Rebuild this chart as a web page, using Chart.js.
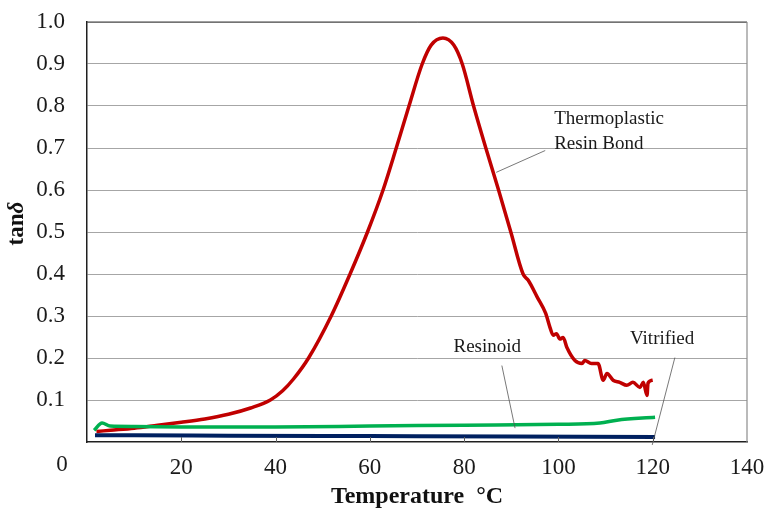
<!DOCTYPE html>
<html lang="en">
<head>
<meta charset="UTF-8">
<script src="https://cdn.jsdelivr.net/npm/chart.js"></script>
<style>
  html, body { margin: 0; padding: 0; background: #ffffff; overflow: hidden; }
</style>
</head>
<body>
<canvas id="grafico" width="766" height="511"></canvas>
<script>
    // temperatura (°C) e tan delta de cada ligante
    var tempTermo = [2, 5, 10, 15, 20, 25, 30, 34.7, 38.9, 41.5, 43.8, 47, 51.8, 55.8, 59.5, 62.8, 65.6, 68.3, 71.1, 73, 75.5, 77.8, 79.6, 82, 84.6, 87.3, 89.9, 92.5, 93.6, 95.5, 97.3, 98.2, 98.9, 99.6, 100.3, 101, 101.8, 103.5, 105, 105.6, 107, 108.4, 109.5, 110.3, 111.6, 113, 114.5, 115.8, 117.3, 118, 118.8, 119, 120];
    var tanTermo = [0.025, 0.028, 0.033, 0.04, 0.047, 0.055, 0.066, 0.081, 0.1, 0.122, 0.15, 0.2, 0.3, 0.4, 0.5, 0.6, 0.7, 0.8, 0.9, 0.945, 0.962, 0.945, 0.9, 0.8, 0.7, 0.6, 0.5, 0.4, 0.385, 0.345, 0.306, 0.273, 0.254, 0.258, 0.245, 0.249, 0.225, 0.194, 0.187, 0.194, 0.187, 0.187, 0.147, 0.163, 0.147, 0.142, 0.135, 0.142, 0.13, 0.142, 0.111, 0.14, 0.147];

    var tempResinoide = [1.5, 3.2, 4.9, 10, 20, 40, 60, 80, 100, 108.8, 112.4, 120.5];
    var tanResinoide = [0.028, 0.045, 0.038, 0.037, 0.036, 0.036, 0.038, 0.04, 0.042, 0.045, 0.052, 0.059];

    var tempVitrificado = [1.7, 10, 30, 60, 90, 120.5];
    var tanVitrificado = [0.016, 0.016, 0.015, 0.014, 0.013, 0.012];

    var ticksX = [0, 20, 40, 60, 80, 100, 120, 140];
    var ticksY = [0.1, 0.2, 0.3, 0.4, 0.5, 0.6, 0.7, 0.8, 0.9, 1.0];

    function pares(xs, ys) {
        return xs.map((x, i) => ({ x: x, y: ys[i] }));
    }

    const serif = 'Liberation Serif, Times New Roman, serif';

    // textos e linhas de chamada, em coordenadas dos dados
    var rotulos = [
        { texto: ['Thermoplastic', 'Resin Bond'], x: 99.1, y: 0.77, alinha: 'left', linha: [[97.2, 0.694], [86.8, 0.642]] },
        { texto: ['Resinoid'], x: 84.9, y: 0.225, alinha: 'center', linha: [[88.0, 0.182], [90.8, 0.033]] },
        { texto: ['Vitrified'], x: 122, y: 0.246, alinha: 'center', linha: [[124.7, 0.201], [119.9, -0.007]] }
    ];

    // tira a folga que o Chart.js reserva para os rótulos das pontas
    function semFolga(s) {
        s.paddingTop = 0;
        s.paddingBottom = 0;
        s.paddingLeft = 0;
        s.paddingRight = 0;
    }

    const extras = {
        id: 'extras',
        afterDraw(chart) {
            const c = chart.ctx;
            const xs = chart.scales.x;
            const ys = chart.scales.y;
            const a = chart.chartArea;
            c.save();

            // bordas de cima e da direita
            c.strokeStyle = '#404040';
            c.lineWidth = 1.2;
            c.beginPath();
            c.moveTo(a.left, a.top);
            c.lineTo(a.right, a.top);
            c.stroke();
            c.strokeStyle = '#8c8c8c';
            c.beginPath();
            c.moveTo(a.right, a.top);
            c.lineTo(a.right, a.bottom);
            c.stroke();

            // marcas para dentro no eixo x
            c.strokeStyle = '#606060';
            c.lineWidth = 1;
            ticksX.forEach(t => {
                if (t === 0 || t === 140) return;
                const px = Math.round(xs.getPixelForValue(t)) + 0.5;
                c.beginPath();
                c.moveTo(px, a.bottom);
                c.lineTo(px, a.bottom - 5);
                c.stroke();
            });

            // rótulo "0" deslocado para a esquerda
            c.fillStyle = '#1a1a1a';
            c.font = '23px ' + serif;
            c.textAlign = 'center';
            c.textBaseline = 'middle';
            c.fillText('0', xs.getPixelForValue(0) - 25, a.bottom + 23);

            // titulo do eixo y: tan (negrito) + delta (negrito italico)
            c.save();
            c.translate(17, ys.getPixelForValue(0.52));
            c.rotate(-Math.PI / 2);
            c.fillStyle = '#111111';
            c.textAlign = 'left';
            c.font = 'bold 23px ' + serif;
            const w1 = c.measureText('tan').width;
            c.font = 'bold italic 23px ' + serif;
            const w2 = c.measureText('δ').width;
            const x0 = -(w1 + w2) / 2;
            c.font = 'bold 23px ' + serif;
            c.fillText('tan', x0, 0);
            c.font = 'bold italic 23px ' + serif;
            c.fillText('δ', x0 + w1, 0);
            c.restore();

            // anotações
            c.font = '19px ' + serif;
            rotulos.forEach(r => {
                c.textAlign = r.alinha;
                r.texto.forEach((t, i) => {
                    c.fillText(t, xs.getPixelForValue(r.x), ys.getPixelForValue(r.y) + i * 25);
                });
                c.strokeStyle = '#555555';
                c.lineWidth = 0.8;
                c.beginPath();
                c.moveTo(xs.getPixelForValue(r.linha[0][0]), ys.getPixelForValue(r.linha[0][1]));
                c.lineTo(xs.getPixelForValue(r.linha[1][0]), ys.getPixelForValue(r.linha[1][1]));
                c.stroke();
            });
            c.restore();
        }
    };

    const ctx = document.getElementById('grafico').getContext('2d');
    const grafico = new Chart(ctx, {
        type: 'line',
        data: {
            datasets: [
                {
                    label: 'Resinoid',
                    data: pares(tempResinoide, tanResinoide),
                    borderColor: '#00b050',
                    borderWidth: 3.5
                },
                {
                    label: 'Vitrified',
                    data: pares(tempVitrificado, tanVitrificado),
                    borderColor: '#002060',
                    borderWidth: 4
                },
                {
                    label: 'Thermoplastic Resin Bond',
                    data: pares(tempTermo, tanTermo),
                    borderColor: '#c00000',
                    borderWidth: 3.5
                }
            ]
        },
        options: {
            responsive: false,
            animation: false,
            devicePixelRatio: 1,
            layout: { padding: { left: 0, top: 22, right: 19, bottom: 0 } },
            elements: {
                point: { radius: 0 },
                line: { cubicInterpolationMode: 'monotone' }
            },
            plugins: {
                legend: { display: false },
                tooltip: { enabled: false }
            },
            scales: {
                x: {
                    type: 'linear',
                    min: 0,
                    max: 140,
                    afterBuildTicks: (s) => { s.ticks = ticksX.map(v => ({ value: v })); },
                    afterFit: (s) => { s.height = 69; semFolga(s); },
                    grid: { display: false, drawTicks: false },
                    border: { display: true, color: '#202020', width: 1.5 },
                    ticks: {
                        color: '#1a1a1a',
                        padding: 12,
                        font: { family: serif, size: 23 },
                        callback: (v) => v === 0 ? '' : v
                    },
                    title: {
                        display: true,
                        text: 'Temperature  °C',
                        color: '#111111',
                        padding: { top: 6, bottom: 0 },
                        font: { family: serif, size: 24, weight: 'bold' }
                    }
                },
                y: {
                    min: 0,
                    max: 1.0,
                    afterBuildTicks: (s) => { s.ticks = ticksY.map(v => ({ value: v })); },
                    afterFit: (s) => { s.width = 87; semFolga(s); },
                    grid: { color: '#a6a6a6', lineWidth: 1, drawTicks: false },
                    border: { display: true, color: '#202020', width: 1.5 },
                    ticks: {
                        color: '#1a1a1a',
                        padding: 22,
                        font: { family: serif, size: 23 },
                        callback: (v) => v.toFixed(1)
                    }
                }
            }
        },
        plugins: [extras]
    });
</script>
</body>
</html>
